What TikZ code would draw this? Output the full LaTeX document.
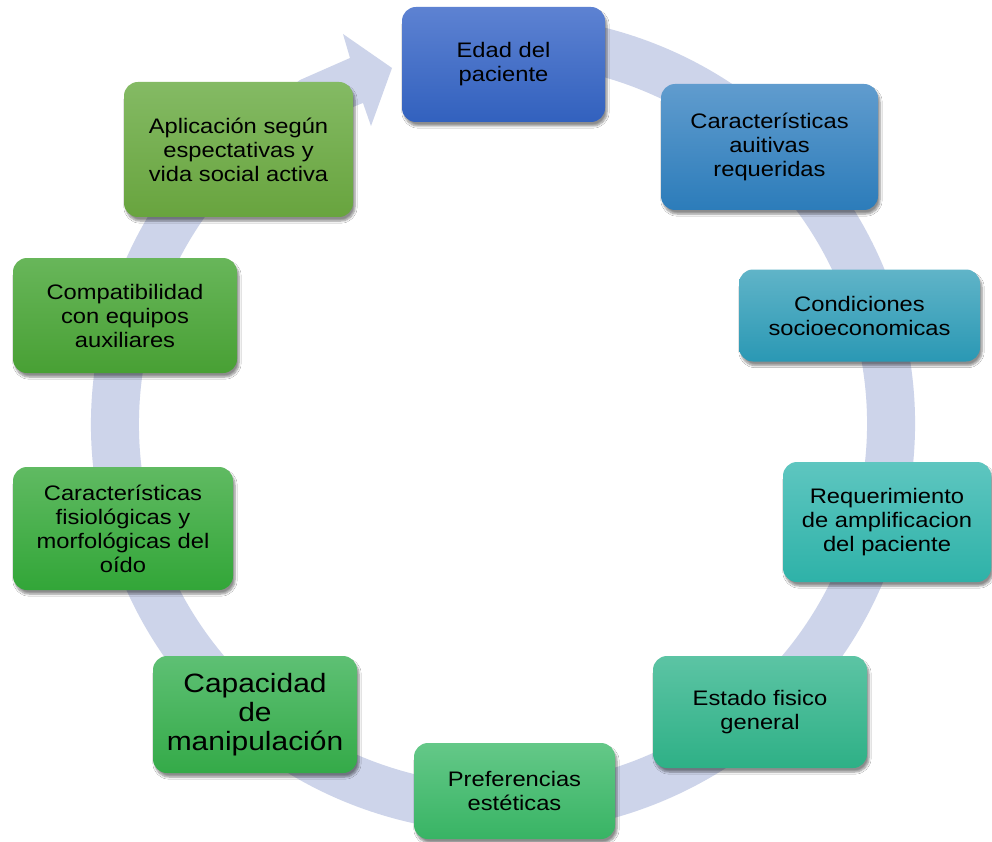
\documentclass[tikz,border=0pt]{standalone}
\usepackage{fontspec}
\setmainfont{Liberation Sans}[FakeStretch=1.13]
\usetikzlibrary{shadows.blur}

\definecolor{aro}{RGB}{205,212,234}
\definecolor{edadA}{RGB}{93,130,210}
\definecolor{edadB}{RGB}{50,97,190}
\definecolor{auitA}{RGB}{96,156,206}
\definecolor{auitB}{RGB}{44,124,186}
\definecolor{condA}{RGB}{96,180,200}
\definecolor{condB}{RGB}{42,152,180}
\definecolor{requA}{RGB}{94,198,192}
\definecolor{requB}{RGB}{46,178,168}
\definecolor{estaA}{RGB}{92,196,164}
\definecolor{estaB}{RGB}{46,176,134}
\definecolor{prefA}{RGB}{100,200,136}
\definecolor{prefB}{RGB}{56,180,100}
\definecolor{capaA}{RGB}{94,192,116}
\definecolor{capaB}{RGB}{52,170,72}
\definecolor{fisiA}{RGB}{96,186,98}
\definecolor{fisiB}{RGB}{50,166,56}
\definecolor{compA}{RGB}{104,182,90}
\definecolor{compB}{RGB}{72,160,52}
\definecolor{apliA}{RGB}{132,186,100}
\definecolor{apliB}{RGB}{104,164,62}

\begin{document}
\begin{tikzpicture}[x=1pt, y=-1pt,
  caja/.style={rounded corners=14pt, align=center, inner sep=0pt,
    font=\fontsize{21}{24}\selectfont,
    blur shadow={shadow xshift=2pt, shadow yshift=-4pt, shadow blur steps=6, shadow opacity=45}},
  anillo/.style={draw=aro, line width=48pt}]
\fill[white] (0,0) rectangle (992,842);
\useasboundingbox (0,0) rectangle (992,842);

% Ring
\coordinate (centro) at (503,424);
\draw[anillo] (centro) ++(-80:388 and 385) arc[start angle=-80, end angle=235, x radius=388, y radius=385];

% Arrow head
\fill[aro] (343,34) -- (392,68) -- (371,126) -- (363,103) -- (320,120) -- (280,95) -- (300,80) -- (350,58) -- cycle;

% Boxes, clockwise from the top
\draw (503.5,64.5) node[caja, minimum width=203pt, minimum height=115pt, top color=edadA, bottom color=edadB] (edad) {Edad del\\paciente};
\draw (769.5,147) node[caja, minimum width=217pt, minimum height=126pt, top color=auitA, bottom color=auitB] (auitivas) {Características\\auitivas\\requeridas};
\draw (859.5,315.5) node[caja, minimum width=241pt, minimum height=92pt, top color=condA, bottom color=condB] (condiciones) {Condiciones\\socioeconomicas};
\draw (887,522) node[caja, minimum width=208pt, minimum height=120pt, top color=requA, bottom color=requB] (requerimiento) {Requerimiento\\de amplificacion\\del paciente};
\draw (760,712) node[caja, minimum width=214pt, minimum height=112pt, top color=estaA, bottom color=estaB] (estado) {Estado fisico\\general};
\draw (514.5,791) node[caja, minimum width=201pt, minimum height=96pt, top color=prefA, bottom color=prefB] (preferencias) {Preferencias\\estéticas};
\draw (255,714.5) node[caja, minimum width=204pt, minimum height=117pt, top color=capaA, bottom color=capaB, font=\fontsize{26.5}{29}\selectfont] (capacidad) {Capacidad\\de\\manipulación};
\draw (123,528.5) node[caja, minimum width=220pt, minimum height=123pt, top color=fisiA, bottom color=fisiB] (fisiologicas) {Características\\fisiológicas y\\morfológicas del\\oído};
\draw (125,315.5) node[caja, minimum width=224pt, minimum height=115pt, top color=compA, bottom color=compB] (compatibilidad) {Compatibilidad\\con equipos\\auxiliares};
\draw (238.5,149.5) node[caja, minimum width=229pt, minimum height=135pt, top color=apliA, bottom color=apliB] (aplicacion) {Aplicación según\\espectativas y\\vida social activa};

\end{tikzpicture}
\end{document}
